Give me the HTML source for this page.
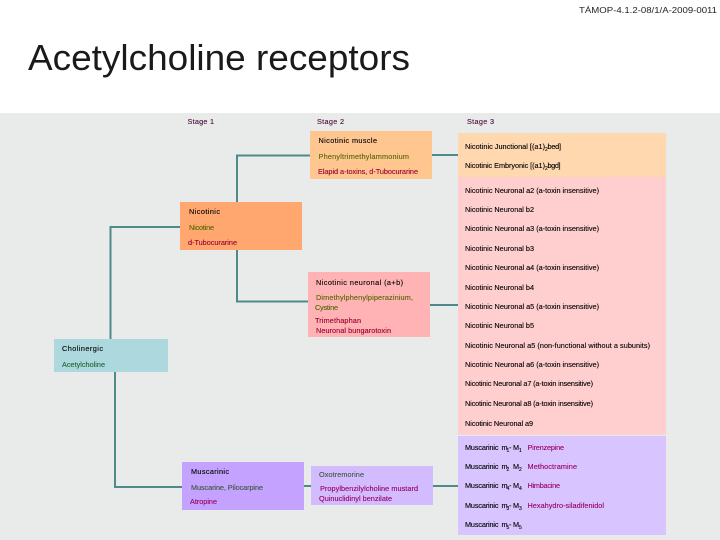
<!DOCTYPE html>
<html><head><meta charset="utf-8">
<style>
html,body{margin:0;padding:0;background:#fff}
svg{display:block}
text{font-family:"Liberation Sans",sans-serif;font-size:7.300px;fill:#000;stroke:#000;stroke-width:.12px}
.g{fill:#556600;stroke:#556600}.r{fill:#990033;stroke:#990033}.s{fill:#4a0a3a;stroke:#4a0a3a}.gg{fill:#445544;stroke:#445544}.p{fill:#990066;stroke:#990066}.a{fill:#226633;stroke:#226633}
.u{font-size:5px}
.t{stroke:none;font-size:36px;fill:#1a1a1a}
.h{font-size:8px;stroke:none;fill:#222}
</style></head>
<body>
<svg width="720" height="540" viewBox="0 0 720 540" xmlns="http://www.w3.org/2000/svg">
<rect width="720" height="540" fill="#fff"/>
<rect y="113" width="720" height="427" fill="#e9ebea"/>
<text class="h" x="579" y="13" textLength="138" lengthAdjust="spacingAndGlyphs">TÁMOP-4.1.2-08/1/A-2009-0011</text>
<text class="t" x="28" y="70" textLength="382" lengthAdjust="spacingAndGlyphs">Acetylcholine receptors</text>

<g fill="none" stroke="#4f8a8b" stroke-width="2">
<path d="M310 155.500H237V202"/>
<path d="M237 250V301.500H308"/>
<path d="M180 227H110.500V339"/>
<path d="M115 372V487H182"/>
<path d="M304 486H311"/>
<path d="M433 486H458"/>
<path d="M432 155H458"/>
<path d="M430 305H458"/>
</g>

<rect x="54" y="339" width="114" height="33" fill="#acd8de"/>
<rect x="180" y="202" width="122" height="48" fill="#ffa76f"/>
<rect x="310" y="131" width="122" height="48" fill="#ffc690"/>
<rect x="308" y="272" width="122" height="65" fill="#ffb3b5"/>
<rect x="182" y="462" width="122" height="48" fill="#c3a3ff"/>
<rect x="311" y="466" width="122" height="39" fill="#d2bcff"/>
<rect x="458" y="133" width="208" height="44" fill="#ffd8b0"/>
<rect x="458" y="177" width="208" height="258" fill="#ffcfcf"/>
<rect x="458" y="436" width="208" height="99" fill="#d8c4ff"/>

<text class="s" x="187.500" y="124" textLength="26.500">Stage 1</text>
<text class="s" x="317" y="124" textLength="27">Stage 2</text>
<text class="s" x="467" y="124" textLength="27">Stage 3</text>

<text x="318.500" y="143" textLength="58.500">Nicotinic muscle</text>
<text class="g" x="318.500" y="159" textLength="90.500">Phenyltrimethylammonium</text>
<text class="r" x="318" y="174" textLength="100">Elapid a-toxins, d-Tubocurarine</text>

<text x="189" y="214" textLength="31">Nicotinic</text>
<text class="g" x="189" y="230" textLength="25">Nicotine</text>
<text class="r" x="188" y="245" textLength="49">d-Tubocurarine</text>

<text x="316" y="285" textLength="87">Nicotinic neuronal (a+b)</text>
<text class="g" x="316" y="300" textLength="97">Dimethylphenylpiperazinium,</text>
<text class="g" x="315" y="310" textLength="23">Cystine</text>
<text class="r" x="315" y="323" textLength="46">Trimethaphan</text>
<text class="r" x="316" y="333" textLength="75">Neuronal bungarotoxin</text>

<text x="62" y="351" textLength="41">Cholinergic</text>
<text class="a" x="62" y="367" textLength="43">Acetylcholine</text>

<text x="191" y="474" textLength="38">Muscarinic</text>
<text class="gg" x="191" y="490" textLength="72">Muscarine, Pilocarpine</text>
<text class="p" x="190" y="504" textLength="27">Atropine</text>

<text class="gg" x="319" y="477" textLength="45">Oxotremorine</text>
<text class="p" x="320" y="491" textLength="98">Propylbenzilylcholine mustard</text>
<text class="p" x="319" y="501" textLength="73">Quinuclidinyl benzilate</text>

<text x="465" y="149" textLength="80">Nicotinic Junctional [(a1)</text><text class="u" x="545" y="151">2</text><text x="547.500" y="149" textLength="13.500">bed]</text>
<text x="465" y="168" textLength="80">Nicotinic Embryonic [(a1)</text><text class="u" x="545" y="170">2</text><text x="547.500" y="168" textLength="13">bgd]</text>
<text x="465" y="193" textLength="134">Nicotinic Neuronal a2 (a-toxin insensitive)</text>
<text x="465" y="212" textLength="69">Nicotinic Neuronal b2</text>
<text x="465" y="231" textLength="134">Nicotinic Neuronal a3 (a-toxin insensitive)</text>
<text x="465" y="251" textLength="69">Nicotinic Neuronal b3</text>
<text x="465" y="270" textLength="134">Nicotinic Neuronal a4 (a-toxin insensitive)</text>
<text x="465" y="290" textLength="69">Nicotinic Neuronal b4</text>
<text x="465" y="309" textLength="134">Nicotinic Neuronal a5 (a-toxin insensitive)</text>
<text x="465" y="328" textLength="69">Nicotinic Neuronal b5</text>
<text x="465" y="348" textLength="185">Nicotinic Neuronal a5 (non-functional without a subunits)</text>
<text x="465" y="367" textLength="134">Nicotinic Neuronal a6 (a-toxin insensitive)</text>
<text x="465" y="386" textLength="128">Nicotinic Neuronal a7 (a-toxin insensitive)</text>
<text x="465" y="406" textLength="128">Nicotinic Neuronal a8 (a-toxin insensitive)</text>
<text x="465" y="426" textLength="68">Nicotinic Neuronal a9</text>

<text x="465" y="450" textLength="33.500">Muscarinic</text><text x="501.500" y="450">m</text><text class="u" x="506.500" y="452">1</text><text x="509" y="450">-</text><text x="513" y="450">M</text><text class="u" x="519" y="452">1</text>
<text class="p" x="527.500" y="450" textLength="36.500">Pirenzepine</text>
<text x="465" y="469" textLength="33.500">Muscarinic</text><text x="501.500" y="469">m</text><text class="u" x="506.500" y="471">2</text><text x="513" y="469">M</text><text class="u" x="519" y="471">2</text>
<text class="p" x="527.500" y="469" textLength="49.500">Methoctramine</text>
<text x="465" y="488" textLength="33.500">Muscarinic</text><text x="501.500" y="488">m</text><text class="u" x="506.500" y="490">4</text><text x="509" y="488">-</text><text x="513" y="488">M</text><text class="u" x="519" y="490">4</text>
<text class="p" x="527.500" y="488" textLength="32.500">Himbacine</text>
<text x="465" y="508" textLength="33.500">Muscarinic</text><text x="501.500" y="508">m</text><text class="u" x="506.500" y="510">3</text><text x="509" y="508">-</text><text x="513" y="508">M</text><text class="u" x="519" y="510">3</text>
<text class="p" x="527.500" y="508" textLength="76.500">Hexahydro-siladifenidol</text>
<text x="465" y="527" textLength="33.500">Muscarinic</text><text x="501.500" y="527">m</text><text class="u" x="506.500" y="529">5</text><text x="509" y="527">-</text><text x="513" y="527">M</text><text class="u" x="519" y="529">5</text>
</svg>
</body></html>
